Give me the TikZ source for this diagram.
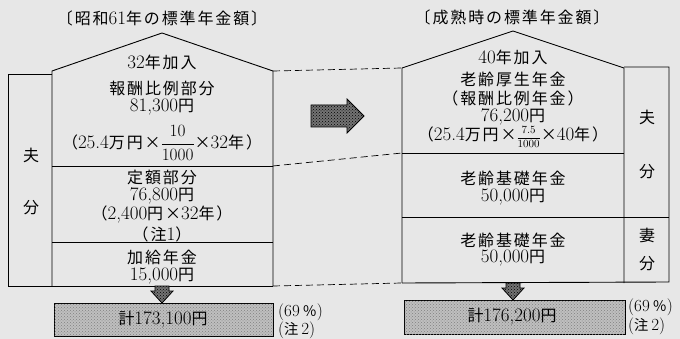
\documentclass[tikz,border=0pt]{standalone}
\usepackage{fontspec}
\newfontfamily\jp[Scale=0.84,LetterSpace=12]{Noto Sans CJK JP}
\newcommand\J[1]{{\jp #1}}
\usetikzlibrary{patterns}
\definecolor{paper}{RGB}{231,231,231}
\tikzset{
  ln/.style={line width=0.9pt},
  txt/.style={inner sep=0pt,font=\fontsize{19}{22}\selectfont},
  note/.style={inner sep=0pt,anchor=west,font=\fontsize{17}{19}\selectfont},
  dash line/.style={line width=0.7pt,dash pattern=on 7pt off 4pt},
  shade fill/.style={draw,line width=0.8pt,fill=black!55,postaction={pattern=crosshatch dots,pattern color=black}},
  box fill/.style={draw,line width=0.9pt,fill=gray!50,postaction={pattern=crosshatch dots,pattern color=black!50}},
}
\begin{document}
\begin{tikzpicture}[x=1pt,y=-1pt]
\fill[paper] (0,0) rectangle (680,339);
\useasboundingbox (0,0) rectangle (680,339);

% ---------- left house ----------
\coordinate (LTR) at (273,71);
\coordinate (LD1) at (273,166);
\coordinate (LBR) at (273,286);
\draw[ln] (52,286) -- (52,71) -- (162,33) -- (LTR) -- (LBR);
\draw[ln] (52,74) -- (8,74) -- (8,286) -- (LBR);
\draw[ln] (52,166) -- (LD1);
\draw[ln] (52,242) -- (273,242);

\node[txt] (ttl) at (162,18) {\J{〔昭和}61\J{年の標準年金額〕}};
\node[txt] (l1) at (162,62) {32\J{年加入}};
\node[txt] (l2) at (162,88) {\J{報酬比例部分}};
\node[txt] (l3) at (162,107) {81,300\J{円}};
\node[txt] (l4) at (162,143) {\J{（}25.4\J{万円×}{\fontsize{17}{20}\selectfont$\displaystyle\frac{10}{1000}$}\J{×}32\J{年）}};
\node[txt] (l5) at (162,177) {\J{定額部分}};
\node[txt] (l6) at (162,196) {76,800\J{円}};
\node[txt] (l7) at (162,215) {\J{（}2,400\J{円×}32\J{年）}};
\node[txt] (l8) at (162,234) {\J{（注}1\J{）}};
\node[txt] (l9) at (162,257) {\J{加給年金}};
\node[txt] (l10) at (162,276) {15,000\J{円}};
\node[txt] (lh1) at (31,155) {\J{夫}};
\node[txt] (lh2) at (31,208) {\J{分}};

% down arrow + total (left)
\draw[shade fill] (155,286) -- (169,286) -- (169,291) -- (173,291) -- (162,303) -- (151,291) -- (155,291) -- cycle;
\draw[box fill] (54,303) rectangle (273,336);
\node[txt] (lsum) at (163,320) {\J{計}173,100\J{円}};
\node[note] (lp1) at (278,312) {(69\,\J{％})};
\node[note] (lp2) at (278,330) {(\J{注}\,2)};

% ---------- middle arrow ----------
\draw[shade fill] (311,105) -- (347,105) -- (347,99) -- (364,116) -- (347,133) -- (347,127) -- (311,127) -- cycle;

% ---------- right house ----------
\coordinate (RTL) at (402,68);
\coordinate (RD1) at (402,153);
\coordinate (RBL) at (402,283);
\draw[ln] (RBL) -- (RTL) -- (513,31) -- (624,68) -- (624,283);
\draw[ln] (624,67) -- (669,67) -- (669,282) -- (RBL);
\draw[ln] (RD1) -- (624,153);
\draw[ln] (402,217) -- (669,217);

\node[txt] (ttr) at (512,17) {\J{〔成熟時の標準年金額〕}};
\node[txt] (r1) at (513,57) {40\J{年加入}};
\node[txt] (r2) at (513,79) {\J{老齢厚生年金}};
\node[txt] (r3) at (513,98) {\J{（報酬比例年金）}};
\node[txt] (r4) at (513,117) {76,200\J{円}};
\node[txt] (r5) at (513,137) {\J{（}25.4\J{万円×}{\fontsize{11}{13}\selectfont$\displaystyle\frac{7.5}{1000}$}\J{×}40\J{年）}};
\node[txt] (r6) at (513,178) {\J{老齢基礎年金}};
\node[txt] (r7) at (513,197) {50,000\J{円}};
\node[txt] (r8) at (513,240) {\J{老齢基礎年金}};
\node[txt] (r9) at (513,258) {50,000\J{円}};
\node[txt] (rh1) at (647,117) {\J{夫}};
\node[txt] (rh2) at (647,172) {\J{分}};
\node[txt] (rh3) at (647,235) {\J{妻}};
\node[txt] (rh4) at (647,264) {\J{分}};

% down arrow + total (right)
\draw[shade fill] (506,283) -- (520,283) -- (520,288) -- (524,288) -- (513,300) -- (502,288) -- (506,288) -- cycle;
\draw[box fill] (404,300) rectangle (625,334);
\node[txt] (rsum) at (512,317) {\J{計}176,200\J{円}};
\node[note] (rp1) at (628,307) {(69\,\J{％})};
\node[note] (rp2) at (628,326) {(\J{注}\,2)};

% ---------- dashed connectors ----------
\draw[dash line] (LTR) -- (RTL);
\draw[dash line] (LD1) -- (RD1);
\draw[dash line] (LBR) -- (RBL);
\end{tikzpicture}
\end{document}
